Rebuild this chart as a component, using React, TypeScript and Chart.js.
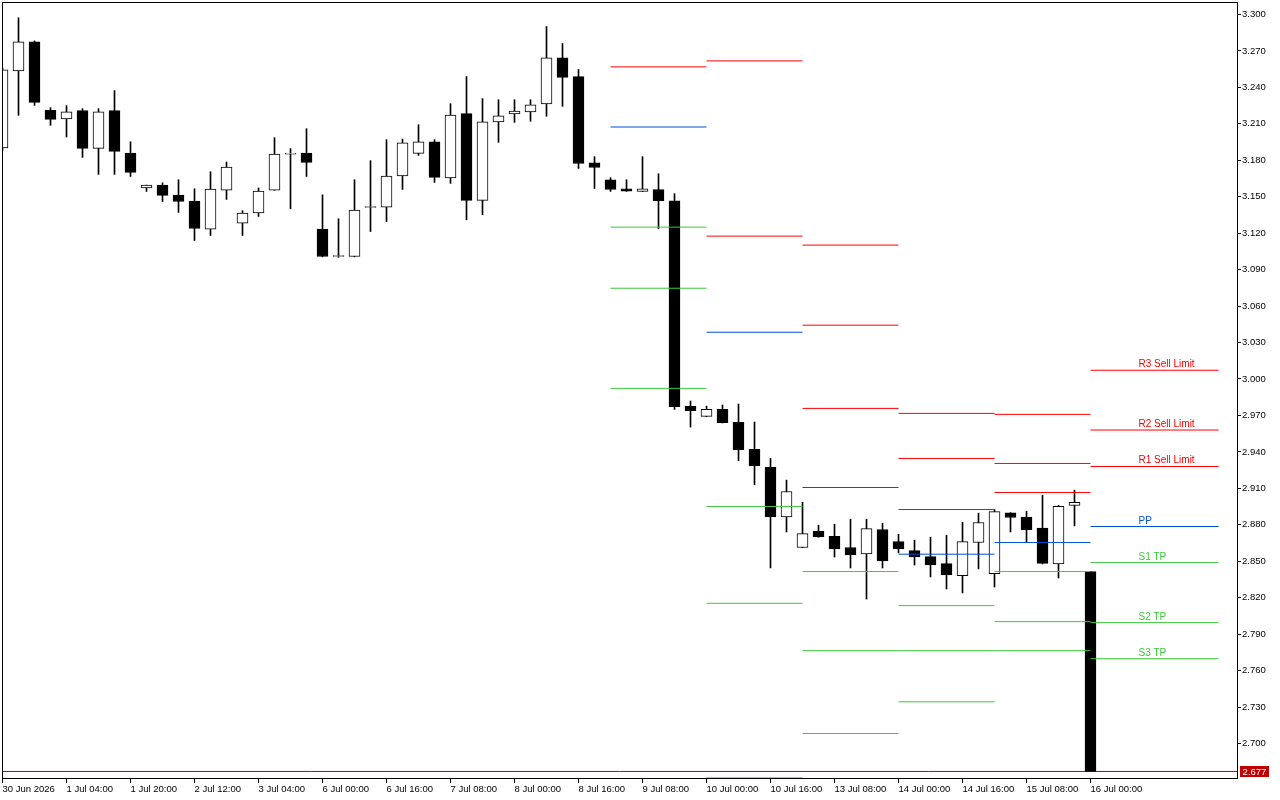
import React, { useEffect, useRef } from "react";
import { Chart, registerables } from "chart.js";

Chart.register(...registerables);

// ---- Candles (H4), index 0 = 30 Jun 12:00 ----
const openP = [
  3.1901, 3.2536, 3.2775, 3.2214, 3.2140, 3.2209, 3.1898, 3.2209, 3.1860, 3.1572,
  3.1596, 3.1514, 3.1464, 3.1234, 3.1555, 3.1283, 3.1366, 3.1555, 3.1850, 3.1860,
  3.1234, 3.1008, 3.1008, 3.1412, 3.1415, 3.1671, 3.1857, 3.1951, 3.1654, 3.2184,
  3.1470, 3.2116, 3.2182, 3.2198, 3.2264, 3.2643, 3.2489, 3.1780, 3.1640, 3.1566,
  3.1544, 3.1558, 3.1467, 2.9777, 2.9692, 2.9750, 2.9643, 2.9421, 2.9272, 2.8865,
  2.8613, 2.8747, 2.8706, 2.8613, 2.8560, 2.8761, 2.8662, 2.8588, 2.8538, 2.8481,
  2.8382, 2.8654, 2.8398, 2.8898, 2.8863, 2.8772, 2.8478, 2.8959, 2.8415,
];
const highP = [
  3.2560, 3.2973, 3.2783, 3.2233, 3.2250, 3.2225, 3.2225, 3.2374, 3.1953, 3.1596,
  3.1615, 3.1640, 3.1566, 3.1706, 3.1786, 3.1385, 3.1572, 3.1986, 3.1896, 3.2060,
  3.1516, 3.1319, 3.1640, 3.1797, 3.1970, 3.1975, 3.2093, 3.1970, 3.2266, 3.2489,
  3.2308, 3.2299, 3.2299, 3.2299, 3.2901, 3.2761, 3.2547, 3.1830, 3.1657, 3.1640,
  3.1830, 3.1690, 3.1525, 2.9819, 2.9777, 2.9786, 2.9794, 2.9646, 2.9346, 2.9168,
  2.8986, 2.8797, 2.8805, 2.8846, 2.8846, 2.8813, 2.8722, 2.8673, 2.8698, 2.8714,
  2.8821, 2.8896, 2.8926, 2.8900, 2.8912, 2.9044, 2.8959, 2.9085, 2.8415,
];
const lowP = [
  3.1880, 3.2170, 3.2252, 3.2088, 3.1992, 3.1824, 3.1684, 3.1684, 3.1667, 3.1544,
  3.1461, 3.1371, 3.1140, 3.1181, 3.1478, 3.1181, 3.1338, 3.1553, 3.1401, 3.1667,
  3.1005, 3.1002, 3.1005, 3.1214, 3.1296, 3.1560, 3.1840, 3.1618, 3.1610, 3.1310,
  3.1352, 3.1948, 3.2112, 3.2121, 3.2162, 3.2244, 3.1733, 3.1568, 3.1544, 3.1544,
  3.1542, 3.1236, 2.9750, 2.9604, 2.9690, 2.9638, 2.9327, 2.9129, 2.8445, 2.8741,
  2.8611, 2.8698, 2.8535, 2.8445, 2.8189, 2.8445, 2.8569, 2.8469, 2.8371, 2.8272,
  2.8239, 2.8437, 2.8288, 2.8741, 2.8654, 2.8478, 2.8362, 2.8791, 2.6770,
];
const closeP = [
  3.2544, 3.2775, 3.2277, 3.2137, 3.2198, 3.1898, 3.2198, 3.1873, 3.1700, 3.1596,
  3.1511, 3.1461, 3.1239, 3.1563, 3.1745, 3.1366, 3.1547, 3.1852, 3.1858, 3.1783,
  3.1008, 3.1016, 3.1390, 3.1420, 3.1671, 3.1943, 3.1951, 3.1659, 3.2173, 3.1470,
  3.2116, 3.2165, 3.2206, 3.2256, 3.2643, 3.2483, 3.1774, 3.1741, 3.1560, 3.1546,
  3.1566, 3.1467, 2.9772, 2.9739, 2.9750, 2.9640, 2.9417, 2.9285, 2.8865, 2.9074,
  2.8728, 2.8700, 2.8601, 2.8552, 2.8769, 2.8502, 2.8601, 2.8535, 2.8469, 2.8387,
  2.8662, 2.8819, 2.8909, 2.8860, 2.8758, 2.8483, 2.8951, 2.8984, 2.6770,
];

// ---- Axis labels ----
const xTickLabels = [
  "30 Jun 2026", "1 Jul 04:00", "1 Jul 20:00", "2 Jul 12:00", "3 Jul 04:00",
  "6 Jul 00:00", "6 Jul 16:00", "7 Jul 08:00", "8 Jul 00:00", "8 Jul 16:00",
  "9 Jul 08:00", "10 Jul 00:00", "10 Jul 16:00", "13 Jul 08:00", "14 Jul 00:00",
  "14 Jul 16:00", "15 Jul 08:00", "16 Jul 00:00",
];
const xTickStep = 4;
const yTicks = [
  2.7, 2.73, 2.76, 2.79, 2.82, 2.85, 2.88, 2.91, 2.94, 2.97, 3.0,
  3.03, 3.06, 3.09, 3.12, 3.15, 3.18, 3.21, 3.24, 3.27, 3.3,
];

// ---- Daily pivot levels (segments: 9, 10, 13, 14, 15, 16 Jul) ----
const segStart = [38, 44, 50, 56, 62, 68];
const segEnd = [44, 50, 56, 62, 68, 76];
const levelR3 = [null, null, 3.1102, 2.9717, 2.9709, 3.0072];
const levelR2 = [null, 3.2618, 3.0443, 2.9346, 2.9305, 2.9580];
const levelR1 = [3.2569, 3.1176, 2.9758, 2.8926, 2.9066, 2.9280];
const levelPP = [3.2074, 3.0385, 2.9107, 2.8558, 2.8654, 2.8786];
const levelS1 = [3.1250, 2.8951, 2.8415, 2.8135, 2.8415, 2.8489];
const levelS2 = [3.0747, 2.8154, 2.7764, 2.7764, 2.8003, 2.7995];
const levelS3 = [2.9923, 2.6717, 2.7082, 2.7343, 2.7764, 2.7698];
const levelNames = ["R3 Sell Limit", "R2 Sell Limit", "R1 Sell Limit", "PP", "S1 TP", "S2 TP", "S3 TP"];
const labelIndex = 71;
const lastPrice = 2.677;

const RED = "#ff0000";
const BLUE = "#0050d8";
const GREEN = "#3cc83c";
const PRICE_RED = "#c00000";
const FONT = "'Liberation Sans', Arial, sans-serif";

// scale bounds (layout)
const X_MIN = -0.5 / 16;
const X_MAX = X_MIN + 1235 / 16;
const Y_MAX = 3.3 + 12.5 / 1215;
const Y_MIN = 2.7 - 34.5 / 1215;

export default function App() {
  const ref = useRef<HTMLCanvasElement | null>(null);

  useEffect(() => {
    const canvas = ref.current;
    if (!canvas) return;

    const idx = openP.map((_, i) => i);
    const bodies = idx.map((i) => ({ x: i, y: [openP[i], closeP[i]] }));
    const wicks = idx.map((i) => ({ x: i, y: [lowP[i], highP[i]] }));
    const bodyFill = idx.map((i) => (closeP[i] < openP[i] ? "#000000" : "#ffffff"));

    const levelSets = [
      { values: levelR3, color: RED },
      { values: levelR2, color: RED },
      { values: levelR1, color: RED },
      { values: levelPP, color: BLUE },
      { values: levelS1, color: GREEN },
      { values: levelS2, color: GREEN },
      { values: levelS3, color: GREEN },
    ];

    const datasets: any[] = [];
    levelSets.forEach((ls) => {
      ls.values.forEach((v, s) => {
        if (v == null) return;
        datasets.push({
          type: "line",
          data: [
            { x: segStart[s], y: v },
            { x: segEnd[s], y: v },
          ],
          borderColor: ls.color,
          borderWidth: 1,
          pointRadius: 0,
          fill: false,
          tension: 0,
          order: 0,
        });
      });
    });
    datasets.push({
      type: "bar",
      data: bodies,
      backgroundColor: bodyFill,
      borderColor: "#000000",
      borderWidth: 1,
      borderSkipped: false,
      barThickness: 11,
      grouped: false,
      order: 1,
    });
    datasets.push({
      type: "bar",
      data: wicks,
      backgroundColor: "#000000",
      borderWidth: 0,
      barThickness: 1,
      grouped: false,
      order: 2,
    });
    datasets.push({
      type: "line",
      data: [
        { x: X_MIN, y: lastPrice },
        { x: X_MAX, y: lastPrice },
      ],
      borderColor: PRICE_RED,
      borderWidth: 1,
      pointRadius: 0,
      fill: false,
      order: 3,
    });

    const overlay = {
      id: "mtOverlay",
      afterDatasetsDraw(chart: any) {
        const { ctx, scales } = chart;
        const xs = scales.x;
        const ys = scales.y;
        ctx.save();
        ctx.font = `10px ${FONT}`;
        ctx.textAlign = "left";
        ctx.textBaseline = "alphabetic";
        const last = segStart.length - 1;
        levelSets.forEach((ls, k) => {
          const v = ls.values[last];
          if (v == null) return;
          ctx.fillStyle = ls.color;
          ctx.fillText(levelNames[k], xs.getPixelForValue(labelIndex), ys.getPixelForValue(v) - 3);
        });
        ctx.restore();
      },
      afterDraw(chart: any) {
        const { ctx, chartArea, scales } = chart;
        ctx.save();
        ctx.strokeStyle = "#000000";
        ctx.lineWidth = 1;
        ctx.strokeRect(2.5, 2.5, chartArea.right - 2, chartArea.bottom - 2);
        const py = scales.y.getPixelForValue(lastPrice);
        const bx = chartArea.right + 3;
        const by = Math.round(py) - 5;
        ctx.fillStyle = PRICE_RED;
        ctx.fillRect(bx, by, 29, 11);
        ctx.fillStyle = "#ffffff";
        ctx.font = `9.5px ${FONT}`;
        ctx.textAlign = "center";
        ctx.textBaseline = "middle";
        ctx.fillText(lastPrice.toFixed(3), bx + 14.5, by + 6);
        ctx.restore();
      },
    };

    const chart = new Chart(canvas, {
      type: "bar",
      data: { datasets },
      options: {
        animation: false,
        responsive: false,
        maintainAspectRatio: false,
        devicePixelRatio: 1,
        layout: { padding: { left: 2, top: 2, right: 0, bottom: 0 } },
        plugins: {
          legend: { display: false },
          tooltip: { enabled: false },
          title: { display: false },
        },
        scales: {
          x: {
            type: "linear",
            offset: false,
            min: X_MIN,
            max: X_MAX,
            afterFit: (s: any) => {
              s.height = 22;
              s.paddingLeft = 0;
              s.paddingRight = 0;
              s.paddingTop = 0;
              s.paddingBottom = 0;
            },
            afterBuildTicks: (s: any) => {
              s.ticks = xTickLabels.map((_, k) => ({ value: k * xTickStep }));
            },
            ticks: {
              autoSkip: false,
              maxRotation: 0,
              minRotation: 0,
              align: "start",
              padding: 1,
              color: "#000000",
              font: { family: FONT, size: 9.5 },
              callback: (v: any) => xTickLabels[Math.round(Number(v) / xTickStep)] ?? "",
            },
            grid: { offset: false, drawOnChartArea: false, drawTicks: true, tickLength: 5, color: "#000000" },
            border: { display: false },
          },
          y: {
            type: "linear",
            position: "right",
            min: Y_MIN,
            max: Y_MAX,
            afterFit: (s: any) => {
              s.width = 43;
              s.paddingLeft = 0;
              s.paddingRight = 0;
              s.paddingTop = 0;
              s.paddingBottom = 0;
            },
            afterBuildTicks: (s: any) => {
              s.ticks = yTicks.map((v) => ({ value: v }));
            },
            ticks: {
              autoSkip: false,
              padding: 1,
              color: "#000000",
              font: { family: FONT, size: 9.5 },
              callback: (v: any) => Number(v).toFixed(3),
            },
            grid: { drawOnChartArea: false, drawTicks: true, tickLength: 4, color: "#000000" },
            border: { display: false },
          },
        },
      } as any,
      plugins: [overlay],
    });

    return () => chart.destroy();
  }, []);

  return (
    <div style={{ position: "fixed", left: 0, top: 0, width: 1280, height: 800, background: "#ffffff" }}>
      <canvas ref={ref} width={1280} height={800} style={{ display: "block", width: 1280, height: 800 }} />
    </div>
  );
}
